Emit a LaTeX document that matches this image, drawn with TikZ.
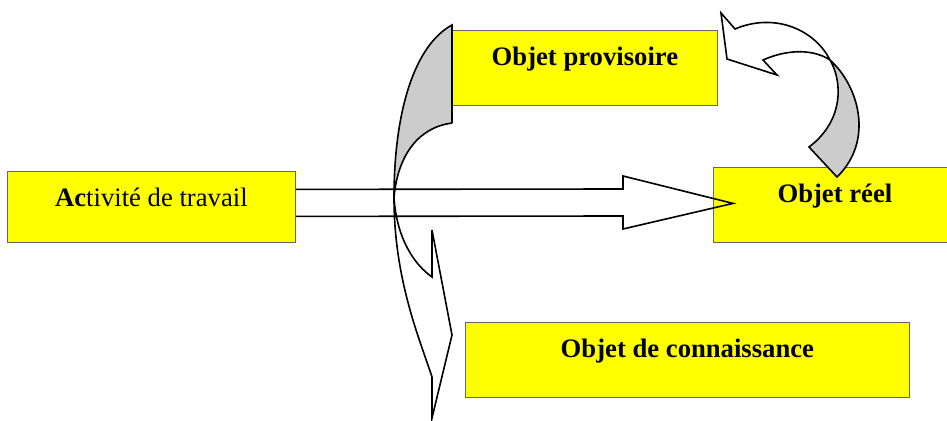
\documentclass[tikz,border=0pt]{standalone}
\usepackage{fontspec}
\setmainfont{Liberation Serif}
\definecolor{boxyellow}{RGB}{255,255,0}
\definecolor{backgrey}{RGB}{204,204,204}
\usetikzlibrary{calc}

\begin{document}
\begin{tikzpicture}[x=0.75pt, y=-0.75pt,
    objbox/.style={draw=black!60, fill=boxyellow, line width=0.6pt, inner sep=0pt,
      anchor=north west, font=\fontsize{20}{24}\selectfont,
      text height=26.25pt, text depth=30pt},
    objbold/.style={objbox, font=\fontsize{20}{24}\selectfont\bfseries},
    blockline/.style={draw=black, line width=1.2pt, line join=miter},
    backface/.style={fill=backgrey}]
  \useasboundingbox (0,0) rectangle (947,421);
  % The four objects (text sits near the top of each box).
  \node[objbox, minimum width=216pt, text depth=27pt] (travail) at (7,171) {\textbf{Ac}tivité de travail};
  \node[objbold, minimum width=198.75pt] (provisoire) at (452,30) {Objet provisoire};
  \node[objbold, minimum width=182.25pt] (reel) at (713,167) {Objet réel};
  \node[objbold, minimum width=333pt] (connaissance) at (465,322) {Objet de connaissance};
  % Straight block arrow: activity -> real object.
  \coordinate (tip) at ($(reel.west)+(20,-1.5)$);
  \draw[blockline] ($(travail.east)+(0,-17.5)$) -- (623,189) -- (623,176) -- (tip)
    -- (623,229) -- (623,216) -- ($(travail.east)+(0,9.5)$);
  % Twisted arrow on the left: grey back face, then outline.
  \fill[backface] (452,25) .. controls (415,45) and (394,110) .. (394,198)
    .. controls (397,160) and (415,128) .. (452,123) -- cycle;
  \draw[blockline] (452,123) -- (452,25) .. controls (415,45) and (394,110) .. (394,198)
    .. controls (394,280) and (420,340) .. (432,377) -- (432,418) -- (452,335) -- (432,230)
    -- (432,277) .. controls (415,265) and (397,240) .. (394,198)
    .. controls (397,160) and (415,128) .. (452,123);
  % Curved arrow back from the real object.
  \fill[backface] (830,60) .. controls (858,85) and (875,140) .. (837,177) -- (809,147)
    .. controls (845,120) and (842,80) .. (830,60) -- cycle;
  \draw[blockline] (763,60) -- (777,75) -- (727,59) -- (721,13) -- (735,29)
    .. controls (775,12) and (815,30) .. (830,60) .. controls (858,85) and (875,140) .. (837,177)
    -- (809,147) .. controls (845,120) and (842,80) .. (830,60)
    .. controls (815,50) and (790,48) .. (763,60) -- cycle;
\end{tikzpicture}
\end{document}
